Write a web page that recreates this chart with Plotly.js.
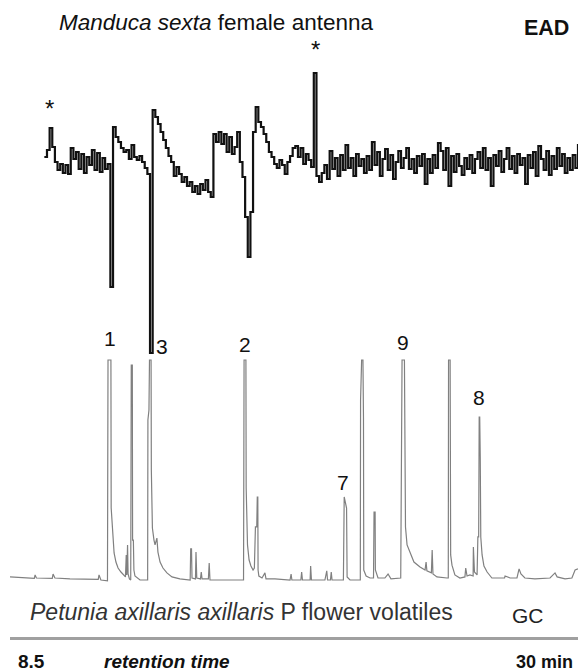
<!DOCTYPE html>
<html>
<head>
<meta charset="utf-8">
<script src="https://cdn.plot.ly/plotly-3.0.1.min.js"></script>
<style>html,body{margin:0;padding:0;background:#fff;}#chart{width:582px;height:671px;}</style>
</head>
<body>
<div id="chart"></div>
<script>
// EAD signal (antenna response), sampled every 0.1 min starting at 9.8 min
const eadStart = 9.8;
const eadStep = 0.1;
const eadValues = [0.05,0.12,0.34,0.15,0.0,-0.08,-0.02,-0.11,-0.03,-0.12,
0.14,0.03,0.10,-0.07,0.08,-0.11,0.05,-0.03,0.12,-0.08,
0.09,-0.10,0.04,-0.07,-0.02,-1.25,0.35,0.25,0.20,0.14,
0.10,0.12,0.03,0.17,0.05,0.02,0.06,0.00,-0.06,-0.12,
-1.91,0.52,0.45,0.38,0.30,0.22,0.14,0.06,0.00,-0.14,
-0.05,-0.12,-0.20,-0.15,-0.24,-0.20,-0.30,-0.24,-0.32,-0.22,
-0.28,-0.18,-0.30,-0.35,0.28,0.20,0.30,0.18,0.28,0.10,
0.25,0.08,0.15,0.30,0.00,-0.15,-0.55,-0.95,-0.50,0.30,
0.55,0.40,0.35,0.28,0.20,0.10,0.05,-0.02,-0.06,0.02,
-0.03,-0.12,0.00,0.06,0.14,0.16,0.05,0.14,-0.02,0.08,
0.02,-0.05,0.89,-0.14,-0.20,-0.11,-0.03,-0.17,0.11,-0.07,
0.04,-0.14,0.07,-0.08,0.17,-0.06,0.04,-0.14,0.08,-0.04,
0.03,-0.11,0.06,-0.08,0.20,-0.03,0.10,-0.14,0.03,0.13,
-0.08,0.07,-0.17,0.00,0.11,-0.06,0.04,0.14,-0.07,0.03,
-0.11,0.06,-0.04,0.08,-0.22,0.03,-0.11,0.07,-0.06,0.19,
0.11,-0.08,0.14,-0.24,0.06,-0.10,0.08,-0.04,-0.13,0.04,
-0.07,0.07,-0.11,0.03,0.10,-0.06,0.14,-0.08,0.04,-0.24,
0.07,-0.04,0.11,-0.10,0.03,0.14,-0.07,0.06,-0.11,0.08,
-0.03,0.04,-0.22,0.07,-0.06,0.10,-0.14,0.16,0.03,-0.08,
0.11,-0.13,0.06,-0.07,0.14,-0.04,0.08,-0.11,0.04,-0.08,
0.07,-0.06,0.18];

// GC chromatogram (retention time in min, relative detector signal; tall peaks off-scale at 100)
const gcTime = [8.50,9.26,9.42,9.45,9.50,10.10,10.13,10.20,10.77,11.84,11.87,11.94,12.13,12.19,12.21,12.32,12.33,12.38,12.44,12.51,
12.59,12.70,12.82,12.87,12.90,12.92,12.95,12.97,13.02,13.07,13.09,13.13,13.14,13.17,13.19,13.23,13.42,13.65,13.71,13.72,
13.76,13.78,13.84,13.85,13.89,13.95,13.99,14.06,14.10,14.18,14.29,14.44,14.63,14.93,15.28,15.32,15.34,15.37,15.39,15.52,
15.54,15.57,15.71,15.74,15.77,16.01,16.04,16.07,16.83,17.34,17.36,17.43,17.44,17.49,17.55,17.62,17.70,17.75,17.79,17.84,
17.86,17.88,17.89,17.92,18.04,18.15,18.19,18.53,19.10,19.14,19.17,19.51,19.54,19.57,19.86,19.88,19.91,20.42,20.49,20.52,
20.63,20.66,20.69,21.12,21.15,21.24,21.26,21.37,21.76,21.77,21.81,21.86,21.88,21.89,21.98,22.13,22.26,22.28,22.32,22.33,
22.43,22.69,22.81,22.92,23.29,23.30,23.32,23.34,23.43,23.44,23.47,23.53,23.64,23.79,24.02,24.21,24.25,24.28,24.45,24.48,
24.51,24.66,25.04,25.09,25.10,25.16,25.18,25.23,25.34,25.53,25.72,25.75,25.80,25.91,26.03,26.04,26.08,26.18,26.21,26.24,
26.26,26.28,26.30,26.32,26.37,26.44,26.56,26.74,27.05,27.22,27.24,27.43,27.69,27.77,27.84,27.99,28.37,28.94,29.13,29.21,
29.51,29.77,29.89,30.00];
const gcValues = [2.3,1.8,1.6,3.2,1.8,1.6,3.6,1.8,1.4,1.2,3.2,0.9,0.5,0.5,100,100,33.3,23.4,13.1,9.0,
6.3,4.5,3.2,2.3,12.2,3.2,16.7,3.6,1.4,0.9,97.7,97.7,18.9,18.9,5.4,2.7,0.9,0.9,0.9,73.0,
77.5,100,100,50.5,24.3,18.9,16.7,19.8,13.5,9.0,6.3,4.1,2.3,1.4,0.9,0.9,14.9,14.9,1.8,1.4,
13.5,1.8,1.4,4.5,1.4,1.4,8.6,0.9,0.9,0.9,100,100,42.3,16.7,9.9,7.2,5.4,6.3,24.8,24.8,
38.3,38.3,5.4,2.7,1.8,4.1,1.4,1.4,0.9,3.6,0.9,0.9,4.5,0.9,0.9,7.2,0.9,0.9,5.0,0.9,
0.9,4.5,0.9,0.9,38.3,33.3,2.3,0.9,0.9,82.0,100,100,73.9,5.4,2.7,1.8,1.8,31.5,31.5,5.4,
1.8,1.8,3.6,1.4,1.8,24.8,24.8,100,100,57.2,24.8,16.7,13.5,9.0,6.8,5.4,9.0,5.0,4.1,14.4,
3.6,2.3,1.8,1.8,100,100,12.2,7.6,3.2,1.8,2.3,6.3,2.7,3.2,2.7,15.8,4.5,3.2,20.3,20.3,
74.3,74.3,56.3,20.3,12.2,7.2,4.5,1.8,1.8,1.8,2.7,1.8,1.8,5.9,3.6,1.8,1.4,1.8,4.1,2.3,
1.4,1.8,5.4,5.9];

// Peak labels on the GC trace
const peakLabels = ["1","3","2","9","8","7"];
const peakLabelTime = [12.29,14.25,17.40,23.38,26.25,21.10];
const peakLabelValue = [109.9,105.9,106.8,108.1,82.9,44.6];

// Asterisks on the EAD trace
const starTime = [10.01,20.08];
const starValue = [0.54,1.13];

const FONT = "Liberation Sans, Arial, Helvetica, sans-serif";

const traces = [
  {
    type: "scatter", mode: "lines",
    x0: eadStart, dx: eadStep, y: eadValues,
    line: {color: "#111111", width: 2.2, shape: "hv"},
    xaxis: "x", yaxis: "y", hoverinfo: "skip"
  },
  {
    type: "scatter", mode: "lines",
    x: gcTime, y: gcValues,
    line: {color: "#808080", width: 1.2},
    xaxis: "x", yaxis: "y2", hoverinfo: "skip"
  }
];

const annotations = [];
peakLabels.forEach((t, i) => {
  annotations.push({text: t, x: peakLabelTime[i], y: peakLabelValue[i], xref: "x", yref: "y2",
    showarrow: false, xanchor: "center", yanchor: "middle",
    font: {family: FONT, size: 21, color: "#111"}});
});
starTime.forEach((t, i) => {
  annotations.push({text: "*", x: t, y: starValue[i], xref: "x", yref: "y",
    showarrow: false, xanchor: "center", yanchor: "middle",
    font: {family: FONT, size: 24, color: "#111"}});
});
annotations.push(
  {text: "<i>Manduca sexta</i> female antenna", x: 0.0827, y: 0.9639, xref: "paper", yref: "paper",
   xanchor: "left", yanchor: "middle", showarrow: false, font: {family: FONT, size: 22.5, color: "#111"}},
  {text: "<b>EAD</b>", x: 0.9437, y: 0.956, xref: "paper", yref: "paper",
   xanchor: "center", yanchor: "middle", showarrow: false, font: {family: FONT, size: 21.5, color: "#111"}},
  {text: "<i>Petunia axillaris axillaris</i> P flower volatiles", x: 0.0317, y: 0.0392, xref: "paper", yref: "paper",
   xanchor: "left", yanchor: "middle", showarrow: false, font: {family: FONT, size: 23, color: "#333"}},
  {text: "GC", x: 0.912, y: 0.0345, xref: "paper", yref: "paper",
   xanchor: "center", yanchor: "middle", showarrow: false, font: {family: FONT, size: 21, color: "#222"}},
  {text: "<b>8.5</b>", x: 0.037, y: -0.0392, xref: "paper", yref: "paper",
   xanchor: "center", yanchor: "middle", showarrow: false, font: {family: FONT, size: 19, color: "#111"}},
  {text: "<b><i>retention time</i></b>", x: 0.162, y: -0.0392, xref: "paper", yref: "paper",
   xanchor: "left", yanchor: "middle", showarrow: false, font: {family: FONT, size: 19, color: "#111"}},
  {text: "<b>30 min</b>", x: 0.9947, y: -0.0392, xref: "paper", yref: "paper",
   xanchor: "right", yanchor: "middle", showarrow: false, font: {family: FONT, size: 18, color: "#111"}}
);

const layout = {
  width: 582, height: 671,
  margin: {l: 10, r: 4, t: 0, b: 34},
  paper_bgcolor: "#ffffff", plot_bgcolor: "#ffffff",
  showlegend: false,
  xaxis: {range: [8.5, 30], showgrid: false, zeroline: false, showticklabels: false, ticks: "",
          showline: true, linecolor: "#a0a0a0", linewidth: 2.5},
  yaxis: {range: [-4.75, 1.62], visible: false, showgrid: false, zeroline: false},
  yaxis2: {range: [-24.77, 262.16], overlaying: "y", visible: false, showgrid: false, zeroline: false},
  annotations: annotations
};

Plotly.newPlot("chart", traces, layout, {displayModeBar: false, staticPlot: true});
</script>
</body>
</html>
